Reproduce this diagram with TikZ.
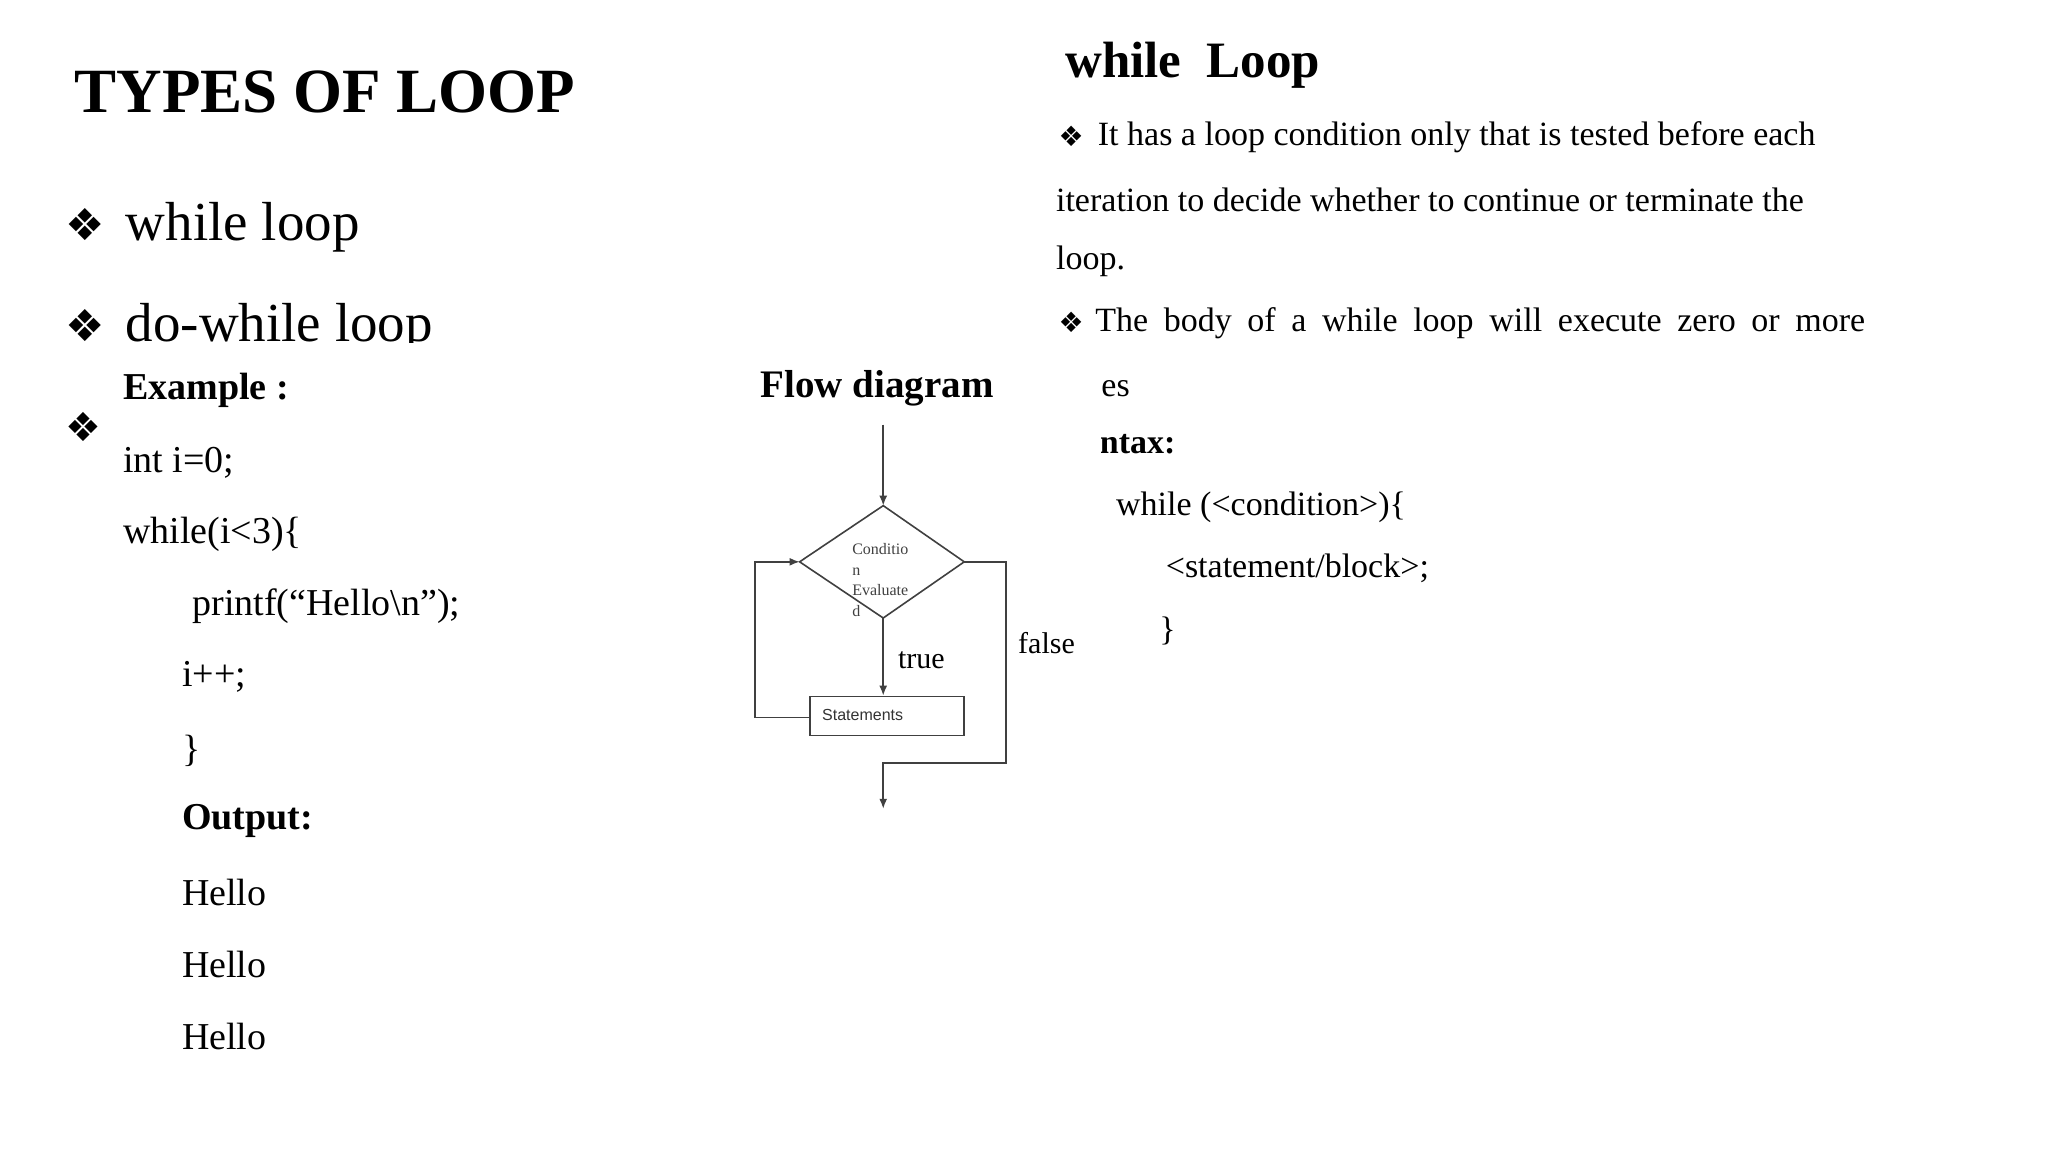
\documentclass[tikz,border=0pt]{standalone}
\usepackage{fontspec}
\setmainfont{Liberation Serif}
\newfontfamily\dv{DejaVu Sans}
\newfontfamily\lsans{Liberation Sans}
\usetikzlibrary{arrows.meta}
\newcommand{\bul}{{\dv\char"2756}}
\begin{document}
\begin{tikzpicture}[x=0.6533pt,y=-0.6533pt,
  tx/.style={anchor=west,inner sep=0pt},
  big/.style={tx,font=\fontsize{27.5}{30}\selectfont},
  code/.style={tx,font=\fontsize{19}{22}\selectfont},
  rt/.style={tx,font=\fontsize{17}{19}\selectfont},
  ln/.style={draw=black!75,line width=0.8pt},
  arr/.style={ln,-{Latex[length=5pt,width=4pt]}}]
\useasboundingbox[fill=white] (0,0) rectangle (1567.5,881.7);
% left
\node[tx,font=\bfseries\fontsize{31.5}{34}\selectfont] (title) at (57,70) {TYPES OF LOOP};
\node[big] (b1) at (50,172) {\fontsize{22}{24}\selectfont\bul};
\node[big] (w) at (96,174) {while loop};
\node[big] (b2) at (50,249) {\fontsize{22}{24}\selectfont\bul};
\begin{scope}
\clip (90,220) rectangle (400,262);
\node[big] (dw) at (96,251) {do-while loop};
\end{scope}
\node[tx] (b3) at (50,327) {\fontsize{20}{22}\selectfont\bul};
\node[code,font=\bfseries\fontsize{19}{22}\selectfont] (ex) at (94,299) {Example :};
\node[code] (c1) at (94,354) {int i=0;};
\node[code] (c2) at (94,409) {while(i<3)\{};
\node[code] (c3) at (147,464) {printf(“Hello\textbackslash n”);};
\node[code] (c4) at (139,518) {i++;};
\node[code] (c5) at (139,575) {\}};
\node[code,font=\bfseries\fontsize{19}{22}\selectfont] (out) at (139,628) {Output:};
\node[code] (h1) at (139,683) {Hello};
\node[code] (h2) at (139,738) {Hello};
\node[code] (h3) at (139,793) {Hello};
% flow
\node[tx,font=\bfseries\fontsize{19.5}{22}\selectfont] (fd) at (582,297) {Flow diagram};
\coordinate (top) at (676,325);
\coordinate (dt) at (676,387);
\coordinate (dl) at (612,430);
\coordinate (dr) at (738,430);
\coordinate (db) at (676,473);
\draw[ln] (dt) -- (dr) -- (db) -- (dl) -- cycle;
\node[tx,align=left,font=\fontsize{8}{10.2}\selectfont,text=black!75] (ct) at (652,444) {Conditio\\n\\Evaluate\\d};
\draw[arr] (top) -- (dt);
\node[ln,minimum width=77.1pt,minimum height=19.6pt,inner sep=0pt] (st) at (679,548) {};
\node[tx,font=\lsans\fontsize{8}{10}\selectfont,text=black!80] (stt) at (629,547) {Statements};
\draw[arr] (db) -- (st.north -| db);
\coordinate (lp) at (578,549);
\draw[arr] (st.west |- lp) -- (lp) -- (578,430) -- (dl);
\coordinate (ex1) at (770,430);
\coordinate (ex2) at (770,584);
\coordinate (ex3) at (676,584);
\coordinate (end) at (676,619);
\draw[arr] (dr) -- (ex1) -- (ex2) -- (ex3) -- (end);
\node[tx,font=\fontsize{15}{16}\selectfont] (tr) at (687,505) {true};
\node[tx,font=\fontsize{15}{16}\selectfont] (fa) at (779,492) {false};
% right
\node[tx,font=\bfseries\fontsize{25.5}{28}\selectfont] (wl) at (815,50) {while\ \ Loop};
\node[tx] (r1) at (810,104) {\fontsize{14}{15}\selectfont\bul};
\node[rt] (t1) at (840,105) {It has a loop condition only that is tested before each};
\node[rt] (t2) at (808,153) {iteration to decide whether to continue or terminate the};
\node[rt] (t3) at (808,200) {loop.};
\node[tx] (r2) at (810,247) {\fontsize{14}{15}\selectfont\bul};
\node[rt] (t4) at (838,247) {\makebox[385pt][s]{The body of a while loop will execute zero or more}};
\begin{scope}
\clip (843,270) rectangle (1000,360);
\node[rt,anchor=east] (t5) at (865,295) {times};
\node[rt,anchor=east,font=\bfseries\fontsize{17}{19}\selectfont] (t6) at (900,341) {Syntax:};
\end{scope}
\node[rt] (s1) at (854,388) {while (<condition>)\{};
\node[rt] (s2) at (892,435) {<statement/block>;};
\node[rt] (s3) at (887,483) {\}};
\end{tikzpicture}
\end{document}
